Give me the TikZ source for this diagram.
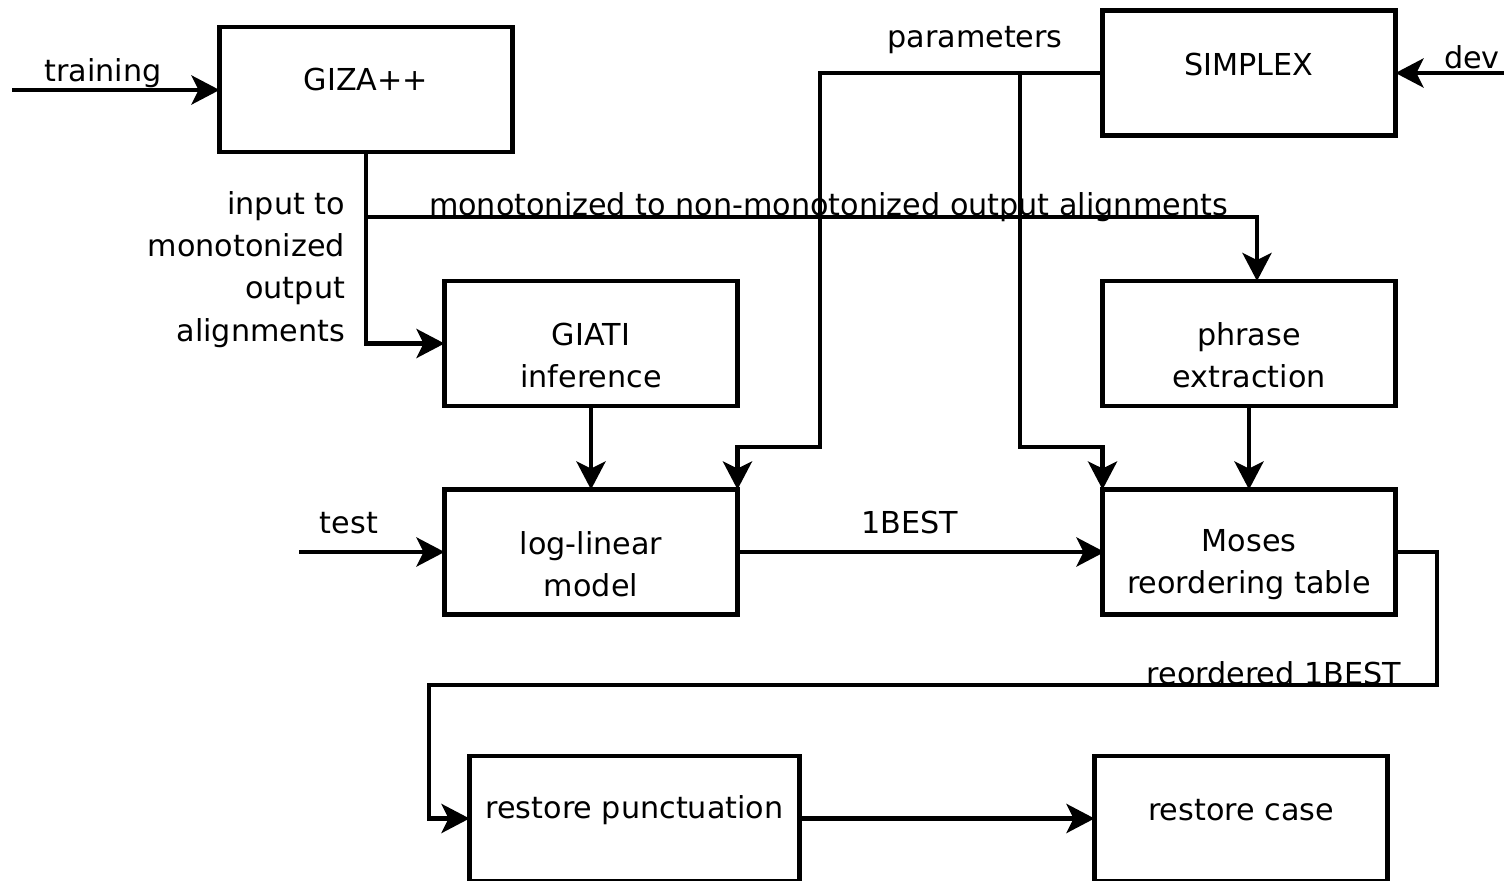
\documentclass[tikz,border=0pt]{standalone}
\usepackage{fontspec}
\setmainfont{DejaVu Sans}
\usetikzlibrary{arrows.meta}
\begin{document}
\begin{tikzpicture}[x=0.02cm,y=-0.02cm,
  every node/.style={font=\fontsize{17.2}{24}\selectfont, inner sep=0pt, outer sep=0pt},
  box/.style={draw, line width=0.09cm, minimum width=5.86cm, minimum height=2.5cm},
  widebox/.style={box, minimum width=6.6cm},
  conn/.style={line width=0.09cm},
  arr/.style={conn, -{Stealth[length=0.56cm,width=0.58cm,inset=0.14cm]}},
  txt/.style={align=center}
]
\useasboundingbox (0,0) rectangle (1504,881);
% boxes
\node[box] (giza) at (366,89.5) {};
\node[box] (simplex) at (1249,73) {};
\node[box] (giati) at (591,343.5) {};
\node[box] (phrase) at (1249,343.5) {};
\node[box] (loglin) at (591,552) {};
\node[box] (moses) at (1249,552) {};
\node[widebox] (punct) at (634.5,818.5) {};
\node[box] (case) at (1241,818.5) {};
% box texts
\node[txt] (tgiza) at (366,80) {GIZA++};
\node[txt] (tsimplex) at (1249,65) {SIMPLEX};
\node[txt] (tgiati) at (591,355.5) {GIATI\\inference};
\node[txt] (tphrase) at (1249,355.5) {phrase\\extraction};
\node[txt] (tloglin) at (591,564.5) {log-linear\\model};
\node[txt] (tmoses) at (1249,565) {Moses\\reordering table};
\node[txt] (tpunct) at (634.5,810.5) {restore punctuation};
\node[txt] (tcase) at (1241,810) {restore case};
% free ends
\coordinate (trainin) at (12,90);
\coordinate (devin) at (1504,73);
\coordinate (testin) at (299,552);
\coordinate (pA) at (820,73);
\coordinate (pB) at (820,447);
\coordinate (qA) at (1020,73);
\coordinate (qB) at (1020,447);
\coordinate (mA) at (366,217);
\coordinate (mB) at (1257,217);
\coordinate (rA) at (1437,552);
\coordinate (rB) at (1437,685);
\coordinate (rC) at (429,685);
% connectors
\draw[arr] (trainin) -- (giza.west |- trainin);
\draw[arr] (devin) -- (simplex.east);
\draw[arr] (simplex.west) -- (pA) -- (pB) -- (loglin.north east |- pB) -- (loglin.north east);
\draw[arr] (qA) -- (qB) -- (moses.north west |- qB) -- (moses.north west);
\draw[arr] (giza.south) |- (giati.west);
\draw[arr] (mA) -- (mB) -- (mB |- phrase.north);
\draw[arr] (giati.south) -- (loglin.north);
\draw[arr] (phrase.south) -- (moses.north);
\draw[arr] (testin) -- (loglin.west);
\draw[arr] (loglin.east) -- ([xshift=0.04cm]moses.west);
\draw[arr] (moses.east) -- (rA) -- (rB) -- (rC) |- (punct.west);
\draw[arr] (punct.east) -- (case.west);
% labels
\node (ltraining) at (103,73) {training};
\node (ldev) at (1472,57) {dev};
\node (lparam) at (975,40) {parameters};
\node[anchor=west] (lmono) at (429,207) {monotonized to non-monotonized output alignments};
\node[anchor=east, align=right] (linput) at (345,269.5) {input to\\monotonized\\output\\alignments};
\node (ltest) at (349,523) {test};
\node (lbest) at (910,523) {1BEST};
\node[anchor=east] (lreord) at (1401,673) {reordered 1BEST};
\end{tikzpicture}
\end{document}
